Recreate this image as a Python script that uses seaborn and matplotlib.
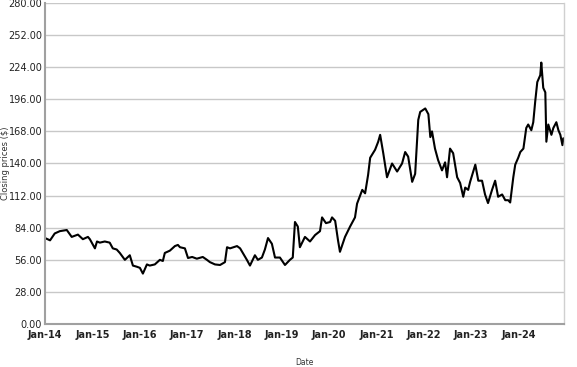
import pandas as pd
import numpy as np
import matplotlib
matplotlib.use("Agg")
import matplotlib.pyplot as plt
import matplotlib.dates as mdates
from matplotlib.ticker import FormatStrFormatter
import seaborn as sns

dates = [
    "2014-01-01", "2014-02-09", "2014-03-17", "2014-04-25", "2014-06-18", "2014-07-26",
    "2014-09-12", "2014-10-20", "2014-11-28", "2014-12-13", "2015-01-21", "2015-02-06",
    "2015-02-28", "2015-04-07", "2015-05-15", "2015-06-08", "2015-07-08", "2015-08-01",
    "2015-09-09", "2015-10-17", "2015-11-10", "2015-12-10", "2016-01-03", "2016-01-26",
    "2016-02-26", "2016-03-19", "2016-04-27", "2016-06-05", "2016-06-28", "2016-07-13",
    "2016-08-21", "2016-09-29", "2016-10-22", "2016-11-07", "2016-12-15", "2017-01-08",
    "2017-02-09", "2017-03-17", "2017-05-02", "2017-06-03", "2017-06-26", "2017-08-04",
    "2017-09-12", "2017-10-20", "2017-11-05", "2017-11-28", "2018-01-21", "2018-02-14",
    "2018-03-07", "2018-04-07", "2018-05-01", "2018-06-08", "2018-07-01", "2018-08-01",
    "2018-08-24", "2018-09-17", "2018-10-17", "2018-11-10", "2018-12-18", "2019-01-26",
    "2019-03-05", "2019-03-27", "2019-04-13", "2019-05-05", "2019-05-21", "2019-06-29",
    "2019-08-07", "2019-09-15", "2019-10-23", "2019-11-08", "2019-12-08", "2020-01-09",
    "2020-01-24", "2020-02-17", "2020-03-10", "2020-03-25", "2020-05-03", "2020-06-11",
    "2020-07-19", "2020-08-04", "2020-09-13", "2020-10-05", "2020-10-28", "2020-11-13",
    "2020-12-21", "2021-01-14", "2021-01-29", "2021-02-22", "2021-03-23", "2021-05-01",
    "2021-06-09", "2021-07-17", "2021-08-10", "2021-09-02", "2021-10-03", "2021-10-26",
    "2021-11-19", "2021-12-04", "2022-01-12", "2022-02-05", "2022-02-20", "2022-03-05",
    "2022-03-28", "2022-04-21", "2022-05-21", "2022-06-14", "2022-06-29", "2022-07-22",
    "2022-08-15", "2022-09-15", "2022-10-08", "2022-11-01", "2022-11-16", "2022-12-09",
    "2022-12-24", "2023-02-02", "2023-02-25", "2023-03-26", "2023-04-18", "2023-05-11",
    "2023-06-11", "2023-07-05", "2023-07-28", "2023-08-28", "2023-09-21", "2023-10-14",
    "2023-10-29", "2023-11-22", "2023-12-07", "2023-12-30", "2024-01-15", "2024-02-08",
    "2024-03-01", "2024-03-16", "2024-04-09", "2024-04-24", "2024-05-09", "2024-05-25",
    "2024-06-17", "2024-06-25", "2024-07-10", "2024-07-26", "2024-08-03", "2024-08-18",
    "2024-09-11", "2024-09-26", "2024-10-19", "2024-11-04", "2024-11-19", "2024-12-05",
    "2024-12-12",
]
prices = [
    75, 73, 79, 81, 82, 76,
    78, 74, 76, 74, 66, 72,
    71, 72, 71, 66, 65, 62,
    56, 60, 51, 50, 49, 44,
    52, 51, 52, 56, 55, 62,
    64, 68, 69, 67, 66, 57.6,
    58.5, 57, 58.5, 56, 54, 52,
    51.5, 54, 67, 66, 68, 66,
    62, 56, 51, 60, 56, 58,
    65, 75, 70, 58, 58, 51.5,
    56, 58, 89, 85, 67, 76,
    72, 77.6, 81, 93, 88, 89,
    93, 90, 73, 63, 76, 85,
    93, 105, 117, 114, 130, 145,
    152, 159, 165, 149, 128, 140,
    133, 140, 150, 146, 124, 131,
    178, 185, 188, 183, 163, 168,
    153, 143, 134, 141, 128, 153,
    149, 128, 123, 111, 119, 117,
    124, 139, 125, 125, 113, 105.5,
    117, 125, 111, 113, 108, 108,
    106, 128, 139, 145, 150, 153,
    171, 174, 169, 176, 194, 211,
    217, 228, 206, 202, 159, 174,
    165, 171, 176, 169, 165, 156,
    162,
]
y_ticks = [0, 28, 56, 84, 112, 140, 168, 196, 224, 252, 280]

df = pd.DataFrame({"Date": pd.to_datetime(dates), "Close": prices})

sns.set_style("white")
fig = plt.figure(figsize=(5.77, 3.67), dpi=100)
ax = fig.add_axes([0.078, 0.117, 0.899, 0.875])

sns.lineplot(data=df, x="Date", y="Close", ax=ax, color="black", linewidth=1.5)

ax.set_ylim(0, 280)
ax.set_yticks(y_ticks)
ax.yaxis.set_major_formatter(FormatStrFormatter("%.2f"))
ax.set_xlim(pd.Timestamp("2014-01-01"), pd.Timestamp("2024-12-15"))
ax.xaxis.set_major_locator(mdates.YearLocator(month=1, day=1))
ax.xaxis.set_major_formatter(mdates.DateFormatter("%b-%y"))

ax.grid(axis="y", color="#c8c8c8", linewidth=1.0)
ax.grid(axis="x", visible=False)
ax.set_axisbelow(True)

for side in ["left", "bottom"]:
    ax.spines[side].set_color("#a0a0a0")
    ax.spines[side].set_linewidth(1.5)
ax.spines["right"].set_color("#d0d0d0")
ax.spines["right"].set_linewidth(1.0)
ax.spines["top"].set_visible(False)

ax.tick_params(axis="y", length=0, pad=2, labelsize=7, labelcolor="#222222")
ax.tick_params(axis="x", length=0, pad=4.5, labelsize=7, labelcolor="#222222")
for lbl in ax.get_xticklabels():
    lbl.set_fontweight("bold")

ax.set_xlabel("Date", fontsize=5.5, color="#333333")
ax.xaxis.set_label_coords(0.5, -0.105)
ax.set_ylabel("Closing prices ($)", fontsize=6, color="#333333")
ax.yaxis.set_label_coords(-0.068, 0.5)

fig.savefig("out.png", dpi=100)
